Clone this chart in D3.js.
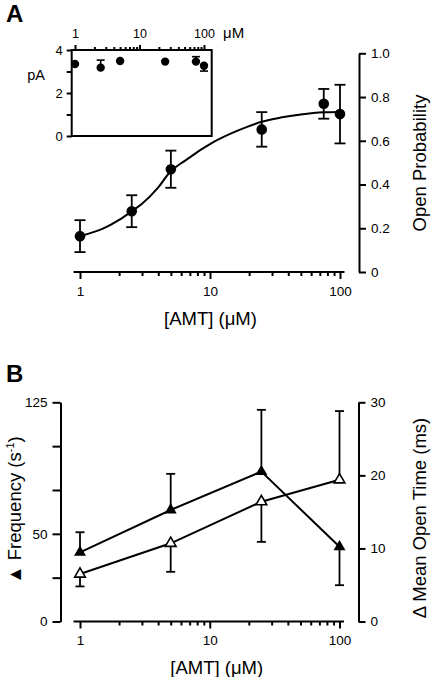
<!DOCTYPE html>
<html><head><meta charset="utf-8">
<script src="https://cdn.jsdelivr.net/npm/d3@7"></script>
<style>
body{margin:0;background:#fff}
svg{display:block}
text{font-family:"Liberation Sans",Arial,Helvetica,sans-serif;fill:#000}
</style>
</head><body>
<svg id="c" width="431" height="677"></svg>
<script>
// ---------- DATA ----------
// Panel A: open probability vs [AMT]
const concA = [1, 2.5, 5, 25, 75, 100];
const popen = [0.164, 0.278, 0.470, 0.652, 0.769, 0.722];
const popenErr = [0.073, 0.073, 0.085, 0.079, 0.068, 0.134];
// fitted curve
const fitConc = [1, 1.5, 2, 2.5, 3, 4, 5, 6, 7, 8.4, 10, 15, 20, 25, 35, 50, 75, 100];
const fitPopen = [0.164, 0.198, 0.238, 0.278, 0.312, 0.387, 0.462, 0.497, 0.524, 0.557, 0.585, 0.637, 0.667, 0.687, 0.706, 0.72, 0.73, 0.732];
// Inset: unitary current amplitude (pA)
const ampConc = [1, 2.5, 5, 25, 75, 100];
const amp = [3.35, 3.18, 3.49, 3.46, 3.46, 3.27];
const ampErrUp = [0, 0.35, 0, 0, 0.23, 0];
const ampErrDown = [0, 0, 0, 0, 0, 0.25];
// Panel B
const concB = [1, 5, 25, 100];
const freq = [39.4, 63.6, 85.5, 42.6];
const freqErrUp = [11.5, 20.6, 35.2, 0];
const freqErrDown = [0, 0, 0, 21.9];
const openTime = [6.5, 10.7, 16.4, 19.4];
const openTimeErrUp = [0, 0, 0, 9.4];
const openTimeErrDown = [1.7, 3.9, 5.5, 0];
// ticks
const xMajor = [1, 10, 100];
const popenTicks = [0, 0.2, 0.4, 0.6, 0.8, 1.0];
const ampTicks = [0, 1, 2, 3, 4];
const ampLabels = [0, 2, 4];
const freqTicks = [0, 25, 50, 75, 100, 125];
const freqLabels = [0, 50, 125];
const timeTicks = [0, 10, 20, 30];

// ---------- DRAW ----------
const svg = d3.select("#c");
svg.append("rect").attr("width",431).attr("height",677).attr("fill","#fff");

const xA = d3.scaleLog().domain([1,100]).range([80,340]);
const yA = d3.scaleLinear().domain([0,1]).range([272,53.3]);
const xI = d3.scaleLog().domain([1,100]).range([75,204]);
const yI = d3.scaleLinear().domain([0,4]).range([136,50]);
const xB = d3.scaleLog().domain([1,100]).range([80,339.5]);
const yF = d3.scaleLinear().domain([0,125]).range([621.5,402.3]);
const yT = d3.scaleLinear().domain([0,30]).range([621.5,402.3]);

const minorOf = x => x.ticks().filter(v => !xMajor.includes(v));

function styleAxis(g, fs){
  g.selectAll("path,line").attr("stroke","#000").attr("stroke-width",2);
  g.selectAll("text").attr("font-size",fs).attr("fill","#000")
   .attr("font-family",'"Liberation Sans",Arial,sans-serif');
}

function bottomLogAxis(x, y0){
  const gMaj = svg.append("g").attr("transform",`translate(0,${y0})`)
    .call(d3.axisBottom(x).tickValues(xMajor).tickSize(7).tickPadding(7).tickFormat(d3.format("d")));
  gMaj.select(".domain").remove();
  styleAxis(gMaj, 13.5);
  const gMin = svg.append("g").attr("transform",`translate(0,${y0})`)
    .call(d3.axisBottom(x).tickValues(minorOf(x)).tickSize(4).tickFormat(""));
  gMin.select(".domain").remove();
  styleAxis(gMin, 13.5);
  svg.append("line").attr("x1",x(1)-6.5).attr("x2",x(100)+4.5).attr("y1",y0).attr("y2",y0)
    .attr("stroke","#000").attr("stroke-width",2);
}

// ===== Panel A =====
svg.append("text").attr("x",6).attr("y",22).attr("font-size",24).attr("font-weight","bold").text("A");

bottomLogAxis(xA, 272);
const gRA = svg.append("g").attr("transform","translate(359,0)")
  .call(d3.axisRight(yA).tickValues(popenTicks).tickSize(7).tickSizeOuter(0).tickPadding(5)
    .tickFormat(d => d === 0 ? "0" : d3.format(".1f")(d)));
styleAxis(gRA, 13.5);

svg.append("text").attr("transform","translate(420,163) rotate(-90)")
  .attr("text-anchor","middle").attr("dy","0.35em").attr("font-size",18.5).text("Open Probability");
svg.append("text").attr("x",210.5).attr("y",325).attr("text-anchor","middle")
  .attr("font-size",18.5).text("[AMT] (\u03bcM)");

// fit curve
const fitPts = fitConc.map((c,i)=>[xA(c), yA(fitPopen[i])]);
svg.append("path").attr("d", d3.line().curve(d3.curveMonotoneX)(fitPts))
  .attr("fill","none").attr("stroke","#000").attr("stroke-width",2);

// error bars A
concA.forEach((c,i)=>{
  const cx = xA(c), t = yA(popen[i]+popenErr[i]), b = yA(popen[i]-popenErr[i]);
  const g = svg.append("g").attr("stroke","#000").attr("stroke-width",1.8);
  g.append("line").attr("x1",cx).attr("x2",cx).attr("y1",t).attr("y2",b);
  g.append("line").attr("x1",cx-5.5).attr("x2",cx+5.5).attr("y1",t).attr("y2",t);
  g.append("line").attr("x1",cx-5.5).attr("x2",cx+5.5).attr("y1",b).attr("y2",b);
});
svg.selectAll(".ptA").data(concA).enter().append("circle")
  .attr("cx",d=>xA(d)).attr("cy",(d,i)=>yA(popen[i])).attr("r",5.3).attr("fill","#000");

// ===== Inset =====
svg.append("rect").attr("x",xI(1)-3.3).attr("y",yI(4)).attr("width",(xI(100)+7.7)-(xI(1)-3.3))
  .attr("height",yI(0)-yI(4)).attr("fill","none").attr("stroke","#000").attr("stroke-width",2);
const gIT = svg.append("g").attr("transform",`translate(0,${yI(4)})`)
  .call(d3.axisTop(xI).tickValues(xMajor).tickSize(5).tickPadding(7).tickFormat(d3.format("d")));
gIT.select(".domain").remove(); styleAxis(gIT, 12.5);
const gITm = svg.append("g").attr("transform",`translate(0,${yI(4)})`)
  .call(d3.axisTop(xI).tickValues(minorOf(xI)).tickSize(3).tickFormat(""));
gITm.select(".domain").remove(); styleAxis(gITm, 12.5);
svg.append("text").attr("x",223).attr("y",38).attr("font-size",15).text("\u03bcM");

const gIL = svg.append("g").attr("transform",`translate(${xI(1)-3.3},0)`)
  .call(d3.axisLeft(yI).tickValues(ampTicks).tickSize(5).tickPadding(4)
    .tickFormat(d => ampLabels.includes(d) ? d : ""));
gIL.select(".domain").remove(); styleAxis(gIL, 13);
svg.append("text").attr("x",45).attr("y",yI(3)+8).attr("text-anchor","end").attr("font-size",14.5).text("pA");

ampConc.forEach((c,i)=>{
  const cx = xI(c);
  const g = svg.append("g").attr("stroke","#000").attr("stroke-width",1.6);
  if (ampErrUp[i] > 0){
    const t = yI(amp[i]+ampErrUp[i]);
    g.append("line").attr("x1",cx).attr("x2",cx).attr("y1",yI(amp[i])).attr("y2",t);
    g.append("line").attr("x1",cx-4).attr("x2",cx+4).attr("y1",t).attr("y2",t);
  }
  if (ampErrDown[i] > 0){
    const b = yI(amp[i]-ampErrDown[i]);
    g.append("line").attr("x1",cx).attr("x2",cx).attr("y1",yI(amp[i])).attr("y2",b);
    g.append("line").attr("x1",cx-4).attr("x2",cx+4).attr("y1",b).attr("y2",b);
  }
});
svg.selectAll(".ptI").data(ampConc).enter().append("circle")
  .attr("cx",d=>xI(d)).attr("cy",(d,i)=>yI(amp[i])).attr("r",4.2).attr("fill","#000");

// ===== Panel B =====
svg.append("text").attr("x",6).attr("y",381.5).attr("font-size",24).attr("font-weight","bold").text("B");
bottomLogAxis(xB, 621.5);
const gLB = svg.append("g").attr("transform","translate(60.5,0)")
  .call(d3.axisLeft(yF).tickValues(freqTicks).tickSize(8).tickSizeOuter(0).tickPadding(5)
    .tickFormat(d => freqLabels.includes(d) ? d : ""));
styleAxis(gLB, 13.5);
const gRB = svg.append("g").attr("transform","translate(358.5,0)")
  .call(d3.axisRight(yT).tickValues(timeTicks).tickSize(7).tickSizeOuter(0).tickPadding(5));
styleAxis(gRB, 13.5);

const fl = svg.append("text").attr("transform","translate(14.5,510) rotate(-90)")
  .attr("text-anchor","middle").attr("dy","0.35em").attr("font-size",18.5);
fl.append("tspan").text("\u25b2 Frequency (s");
fl.append("tspan").attr("font-size",11).attr("dy",-7).text("-1");
fl.append("tspan").attr("dy",7).text(")");
svg.append("text").attr("transform","translate(420,518) rotate(-90)")
  .attr("text-anchor","middle").attr("dy","0.35em").attr("font-size",18.5).text("\u0394 Mean Open Time (ms)");
svg.append("text").attr("x",216.7).attr("y",673.5).attr("text-anchor","middle")
  .attr("font-size",18.5).text("[AMT] (\u03bcM)");

function errB(xs, ys, up, down, ysc){
  xs.forEach((c,i)=>{
    const cx = xB(c), cy = ysc(ys[i]);
    const g = svg.append("g").attr("stroke","#000").attr("stroke-width",1.8);
    if (up[i] > 0){
      const t = ysc(ys[i]+up[i]);
      g.append("line").attr("x1",cx).attr("x2",cx).attr("y1",cy).attr("y2",t);
      g.append("line").attr("x1",cx-4.5).attr("x2",cx+4.5).attr("y1",t).attr("y2",t);
    }
    if (down[i] > 0){
      const b = ysc(ys[i]-down[i]);
      g.append("line").attr("x1",cx).attr("x2",cx).attr("y1",cy).attr("y2",b);
      g.append("line").attr("x1",cx-4.5).attr("x2",cx+4.5).attr("y1",b).attr("y2",b);
    }
  });
}
errB(concB, freq, freqErrUp, freqErrDown, yF);
errB(concB, openTime, openTimeErrUp, openTimeErrDown, yT);

const lineF = d3.line().x((d,i)=>xB(concB[i])).y(d=>yF(d));
const lineT = d3.line().x((d,i)=>xB(concB[i])).y(d=>yT(d));
svg.append("path").attr("d",lineF(freq)).attr("fill","none").attr("stroke","#000").attr("stroke-width",2);
svg.append("path").attr("d",lineT(openTime)).attr("fill","none").attr("stroke","#000").attr("stroke-width",2);

const tri = d3.symbol().type(d3.symbolTriangle);
svg.selectAll(".tF").data(freq).enter().append("path")
  .attr("d",tri.size(62)()).attr("transform",(d,i)=>`translate(${xB(concB[i])},${yF(d)})`)
  .attr("fill","#000");
svg.selectAll(".tT").data(openTime).enter().append("path")
  .attr("d",d3.symbol().type(d3.symbolTriangle).size(50)()).attr("transform",(d,i)=>`translate(${xB(concB[i])},${yT(d)})`)
  .attr("fill","#fff").attr("stroke","#000").attr("stroke-width",1.6);
</script>
</body></html>
